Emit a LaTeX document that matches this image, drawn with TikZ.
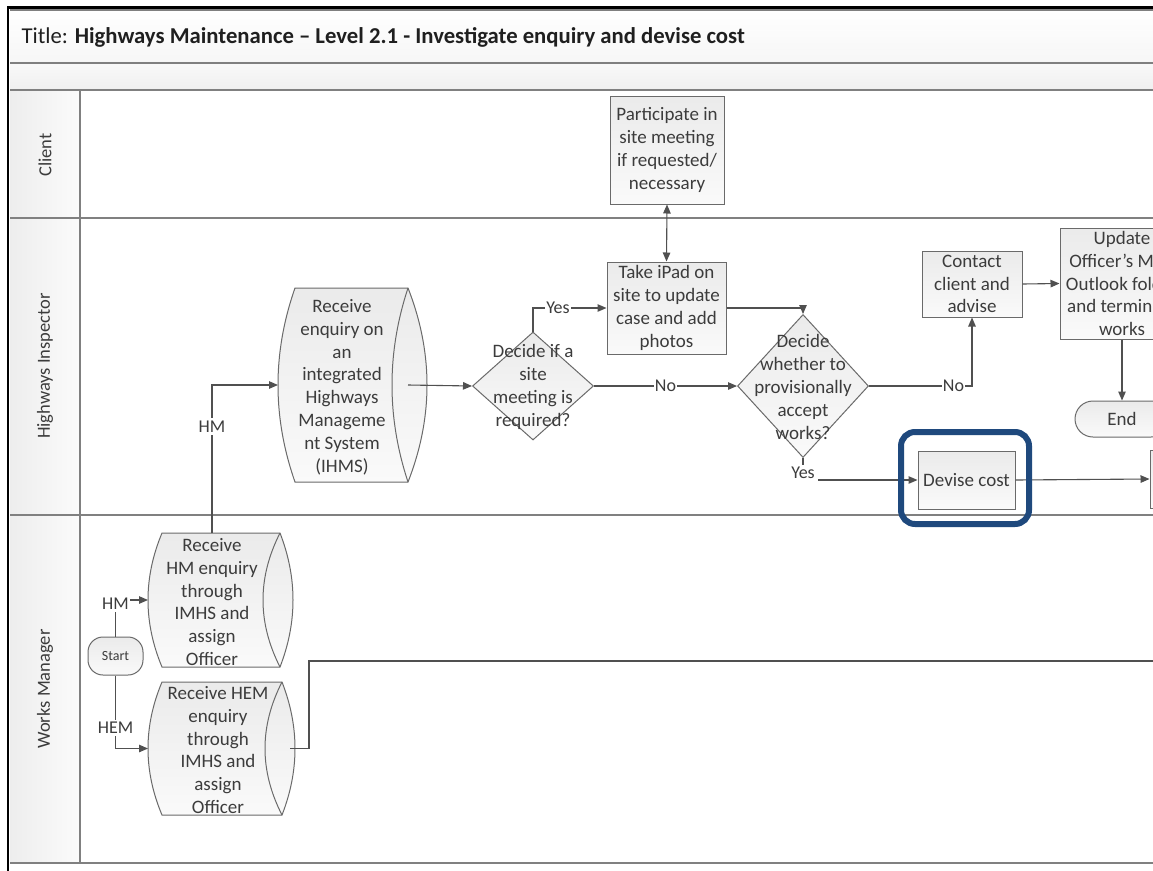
\documentclass[tikz,border=0pt]{standalone}
\usepackage{fontspec}
\setmainfont{Carlito}
\usetikzlibrary{shapes.geometric,arrows.meta,calc}
\definecolor{ink}{HTML}{3C3C3C}
\definecolor{edgec}{HTML}{6A6A6A}
\definecolor{wirec}{HTML}{505050}
\definecolor{framec}{HTML}{808080}
\definecolor{hiblue}{HTML}{1F497D}

% horizontal "direct data" drum: bulging left end, lens-shaped right end
% #1 holder node, #2 left bulge, #3 outer right bulge, #4 inner right bulge
\newcommand\drumshape[4]{%
  \path[drumfill] (#1.north west) -- (#1.north east)
     .. controls ($(#1.north east)!1/3!(#1.south east)+(#3*4/3,0)$)
            and ($(#1.north east)!2/3!(#1.south east)+(#3*4/3,0)$) .. (#1.south east)
     -- (#1.south west)
     .. controls ($(#1.south west)!1/3!(#1.north west)+(-#2*4/3,0)$)
            and ($(#1.south west)!2/3!(#1.north west)+(-#2*4/3,0)$) .. (#1.north west) -- cycle;
  \draw[drumline] (#1.north east)
     .. controls ($(#1.north east)!1/3!(#1.south east)+(-#4*4/3,0)$)
            and ($(#1.north east)!2/3!(#1.south east)+(-#4*4/3,0)$) .. (#1.south east);
}

\begin{document}
\begin{tikzpicture}[x=1pt,y=-1pt,
  every node/.style={text=ink},
  body/.style={font=\fontsize{19}{22.8}\selectfont},
  proc/.style={body, draw=edgec, line width=1pt, top color=gray!16, bottom color=gray!4,
    align=center, inner sep=0pt},
  dec/.style={diamond, draw=edgec, line width=1pt, top color=gray!16, bottom color=gray!4,
    inner sep=0pt},
  term/.style={draw=edgec, line width=1pt, top color=gray!16, bottom color=gray!4, inner sep=0pt},
  holder/.style={inner sep=0pt, outer sep=0pt},
  drumfill/.style={draw=edgec, line width=1pt, top color=gray!16, bottom color=gray!4},
  drumline/.style={draw=edgec, line width=1pt},
  txt/.style={body, align=center, inner sep=0pt},
  lbl/.style={font=\fontsize{18}{20}\selectfont, fill=white, inner xsep=1.2pt, inner ysep=2.5pt},
  lanelbl/.style={font=\fontsize{18.5}{20}\selectfont, rotate=90},
  conn/.style={draw=wirec, line width=1.1pt, -{Triangle[length=9pt,width=7.5pt]}},
  conn2/.style={draw=wirec, line width=1.1pt, {Triangle[length=9pt,width=7.5pt]}-{Triangle[length=9pt,width=7.5pt]}},
  plain/.style={draw=wirec, line width=1.1pt},
  rule/.style={draw=framec, line width=1.5pt},
]
\useasboundingbox (0,0) rectangle (1153,870);
\fill[white] (0,0) rectangle (1153,870);
\begin{scope}
\clip (0,0) rectangle (1153,870);

% ---- title band, sub band and lane headers
\path[top color=white, bottom color=gray!7] (10,10) rectangle (1160,63);
\path[top color=gray!5, bottom color=gray!12] (10,63) rectangle (1160,90);
\path[left color=gray!14, right color=gray!3] (10,90) rectangle (80,863);
\draw[rule] (10,10) -- (1160,10);
\draw[rule] (10,63) -- (1160,63);
\draw[rule] (10,90) -- (1160,90);
\draw[rule] (10,218) -- (1160,218);
\draw[rule] (10,515) -- (1160,515);
\draw[rule] (10,863) -- (1160,863);
\draw[rule] (80,90) -- (80,863);
\draw[black, line width=2.6pt] (8,872) -- (8,7.5) -- (1160,7.5);

\node[anchor=base west, font=\fontsize{22.7}{26}\selectfont, text=black!88] (title) at (18,43)
  {Title: \textbf{Highways Maintenance – Level 2.1 - Investigate enquiry and devise cost}};

\node[lanelbl] (laneclient) at (45,155) {Client};
\node[lanelbl] (laneinsp) at (45,366) {Highways Inspector};
\node[lanelbl] (lanewm) at (45,689) {Works Manager};

% ---- Client lane
\node[proc, minimum width=114pt, minimum height=108pt] (part) at (667,150)
  {Participate in\\site meeting\\if requested/\\necessary};

% ---- Highways Inspector lane
\node[holder, minimum width=113pt, minimum height=194pt] (ihms) at (351.5,385) {};
\drumshape{ihms}{17}{19}{16}
\node[txt] (ihmst) at (342,387)
  {Receive\\enquiry on\\an\\integrated\\Highways\\Manageme\\nt System\\(IHMS)};

\node[dec, minimum width=121pt, minimum height=108pt] (d1) at (533,386) {};
\node[txt] (d1t) at (533,387) {Decide if a\\site\\meeting is\\required?};

\node[proc, minimum width=119pt, minimum height=92pt] (ipad) at (666.5,308)
  {Take iPad on\\site to update\\case and add\\photos};

\node[dec, minimum width=131pt, minimum height=143pt] (d2) at (803,386) {};
\node[txt] (d2t) at (803,387) {Decide\\whether to\\provisionally\\accept\\works?};

\node[proc, minimum width=100pt, minimum height=66pt] (contact) at (972,284)
  {Contact\\client and\\advise};

\node[proc, minimum width=124pt, minimum height=111pt] (update) at (1122,283.5)
  {Update\\Officer’s MIS/\\Outlook folder\\and terminate\\works};

\node[term, body, rounded corners=18pt, minimum width=94pt, minimum height=36pt] (end) at (1122,419) {End};

\node[proc, minimum width=97pt, minimum height=58pt] (devise) at (966.5,480) {Devise cost};

\node[proc, minimum width=110pt, minimum height=58pt] (nextbox) at (1205,479) {};

% ---- Works Manager lane
\node[term, rounded corners=15pt, minimum width=55pt, minimum height=38pt,
  font=\fontsize{14}{16}\selectfont] (start) at (115.5,656) {Start};

\node[holder, minimum width=118pt, minimum height=134pt] (wm1) at (221,600) {};
\drumshape{wm1}{14}{13}{17}
\node[txt] (wm1t) at (212,602) {Receive\\HM enquiry\\through\\IMHS and\\assign\\Officer};

\node[holder, minimum width=120pt, minimum height=133pt] (wm2) at (222,748.5) {};
\drumshape{wm2}{14}{13}{17}
\node[txt] (wm2t) at (218,750) {Receive HEM\\enquiry\\through\\IMHS and\\assign\\Officer};

\coordinate (wmexit) at (1165,661);

% ---- connectors
\draw[conn] (start.north) |- node[lbl, pos=0.5, yshift=-4pt] {HM} ([xshift=-14pt]wm1.west);
\draw[conn] (start.south) |- node[lbl, pos=0.36] {HEM} ([xshift=-14pt]wm2.west);
\draw[conn] (wm1.north -| wm1t) |- node[lbl, pos=0.36] {HM} ([xshift=-17pt]ihms.west);
\draw[plain] ([xshift=8pt]wm2.east) -- ++(19,0) |- (wmexit);

\draw[conn] (ihms.east) -- (d1.west);
\draw[conn] (d1.north) |- node[lbl, pos=0.67] {Yes} (ipad.west);
\draw[conn] (d1.east) -- node[lbl] {No} (d2.west);
\draw[conn2] (ipad.north) -- (part.south);
\draw[conn] (ipad.east) -| (d2.north);
\draw[conn] (d2.east) -| node[lbl, pos=0.41] {No} (contact.south);
\draw[conn] (d2.south) |- node[lbl, pos=0.5, yshift=7pt, inner xsep=3pt] {Yes} (devise.west);
\draw[conn] (contact.east) -- (update.west);
\draw[conn] (update.south) -- (end.north);
\draw[conn] (devise.east) -- (nextbox.west);

% ---- highlight round the costing step
\node[draw=hiblue, line width=6pt, rounded corners=14pt, minimum width=128pt, minimum height=92pt]
  (focus) at (965,478) {};
\end{scope}
\end{tikzpicture}
\end{document}
